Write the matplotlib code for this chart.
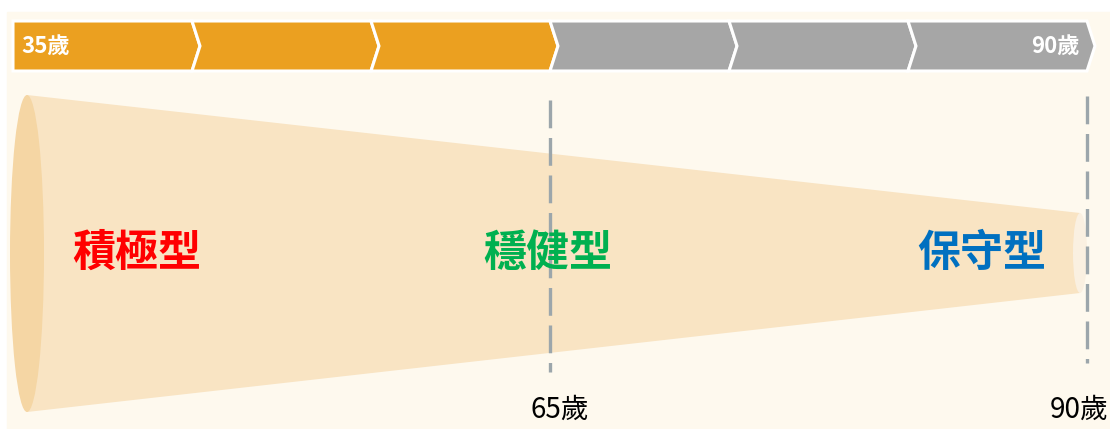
import matplotlib
matplotlib.use('Agg')
import matplotlib.pyplot as plt
from matplotlib.patches import Polygon, Ellipse, Rectangle

plt.rcParams['font.family'] = ['Noto Sans CJK TC', 'DejaVu Sans']
plt.rcParams['lines.scale_dashes'] = False

# data
segment_phase = ['work', 'work', 'work', 'retire', 'retire', 'retire']
phase_colors = {'work': '#EBA020', 'retire': '#A6A6A6'}
band_labels = ['35歲', '90歲']
stage_names = ['積極型', '穩健型', '保守型']
stage_colors = ['#FF0000', '#00B050', '#0070C0']
marker_labels = ['65歲', '90歲']

# layout (pixel space)
W, H = 1110, 429
band_x0, band_step, band_top, band_bot, tip = 13, 179, 21, 71, 8
cone_x0, cone_x1 = 27, 1080
stage_x = [137, 548, 982]
marker_x = [550, 1087]

fig = plt.figure(figsize=(W / 100, H / 100), dpi=100)
ax = fig.add_axes([0, 0, 1, 1])
ax.set_xlim(0, W)
ax.set_ylim(H, 0)
ax.axis('off')

ax.add_patch(Rectangle((7, 12), W - 7, H - 12, color='#FEF9EE', zorder=0))

# chevron band
mid = (band_top + band_bot) / 2
for i, ph in enumerate(segment_phase):
    L = band_x0 + i * band_step
    R = L + band_step
    if i == 0:
        left = [(L, band_bot), (L, band_top)]
    else:
        left = [(L, band_bot), (L + tip, mid), (L, band_top)]
    pts = left + [(R, band_top), (R + tip, mid), (R, band_bot)]
    ax.add_patch(Polygon(pts, closed=True, facecolor=phase_colors[ph],
                         edgecolor='white', linewidth=2.2, zorder=2))

ax.text(21, mid, band_labels[0], color='white', fontsize=16, fontweight='bold',
        ha='left', va='center', zorder=3)
ax.text(1080, mid, band_labels[1], color='white', fontsize=16, fontweight='bold',
        ha='right', va='center', zorder=3)

# cone
ax.add_patch(Polygon([(cone_x0, 95), (cone_x1, 213), (cone_x1, 293), (cone_x0, 412)],
                     closed=True, facecolor='#F9E4C3', edgecolor='none', zorder=1))
ax.add_patch(Ellipse((cone_x0, 253.5), 34, 317, facecolor='#F5D6A4',
                     edgecolor='none', zorder=1))
ax.add_patch(Ellipse((cone_x1, 253), 14, 80, facecolor='#FAF0E1',
                     edgecolor='none', zorder=1))

# dashed markers
for x, y0, y1 in zip(marker_x, [100, 96], [372, 363]):
    ax.plot([x, x], [y0, y1], color='#9CA6AB', linewidth=2.4,
            dashes=(20, 7), zorder=4)

for x, name, c in zip(stage_x, stage_names, stage_colors):
    ax.text(x, 253, name, color=c, fontsize=31, fontweight='bold',
            ha='center', va='center', zorder=5)

for x, lab in zip([560, 1079], marker_labels):
    ax.text(x, 410, lab, color='black', fontsize=20, ha='center', va='center', zorder=5)

fig.savefig('out.png', dpi=100)
